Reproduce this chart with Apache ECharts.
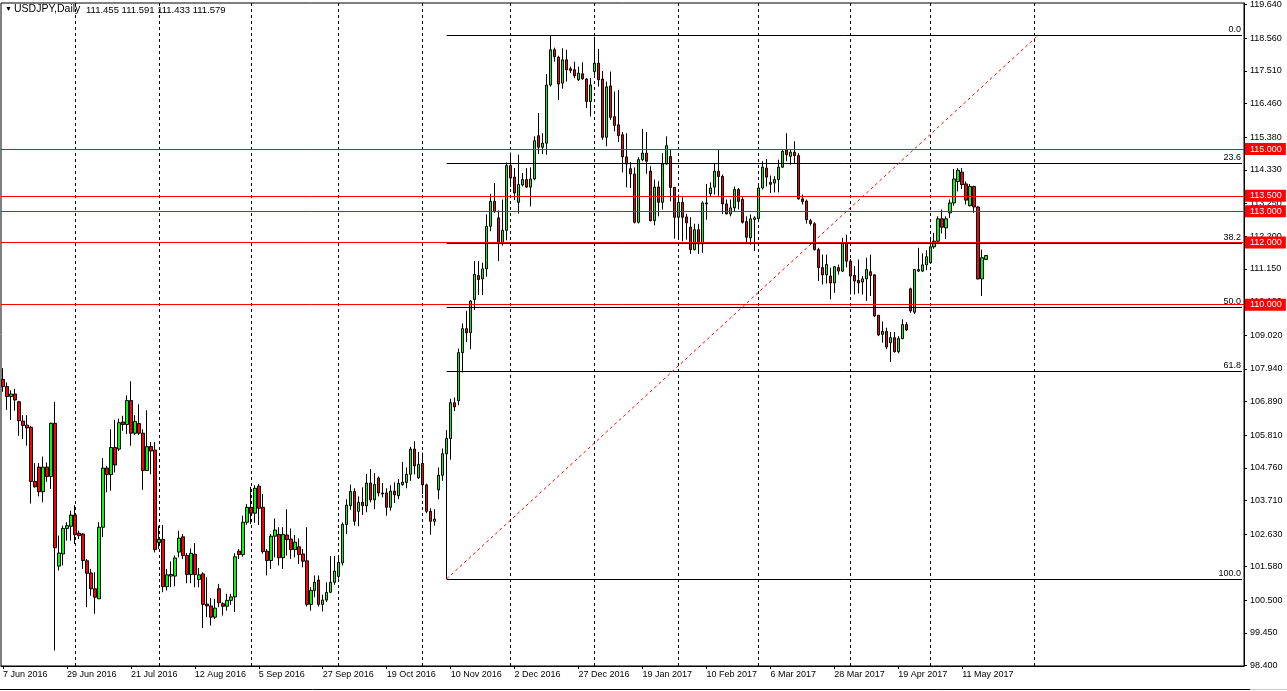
<!DOCTYPE html>
<html><head><meta charset="utf-8">
<script src="https://cdn.jsdelivr.net/npm/echarts@6/dist/echarts.min.js"></script>
<style>html,body{margin:0;padding:0;background:#fff}#c{width:1287px;height:691px}</style>
</head><body><div id="c"></div>
<script>
// ---------- DATA ----------
const symbolTitle = 'USDJPY,Daily';
const firstDate = [2016, 6, 7];            // 7 Jun 2016 (first bar)
const skippedDays = ['2016-12-26', '2017-01-02'];
const totalSlots = 311;                    // bars + empty future slots on the axis

const opens = [
107.60,107.37,107.05,107.13,106.88,106.26,106.13,106.06,104.32,104.78,
103.99,104.78,104.48,106.19,101.60,101.99,102.81,102.88,103.24,102.66,
102.63,101.77,101.38,100.87,100.55,102.85,104.75,104.54,105.41,105.36,
106.23,106.15,106.92,105.87,106.18,105.87,104.67,105.44,105.33,102.36,
102.46,100.94,101.28,101.28,102.05,102.54,101.94,101.33,101.98,101.17,
101.35,100.38,100.32,99.96,100.87,100.39,100.31,100.50,100.61,102.08,
101.97,103.01,103.49,103.30,104.17,103.49,102.08,101.78,102.56,102.62,
101.87,102.60,102.47,102.13,102.22,101.99,101.77,100.37,100.82,101.15,
100.37,100.51,100.76,101.08,101.27,101.70,102.94,103.54,104.00,103.36,
103.65,103.54,104.27,103.73,104.43,103.95,103.95,103.49,104.01,103.86,
104.22,104.29,104.55,105.36,104.44,104.90,104.21,103.36,103.04,104.05,
104.52,105.21,105.70,106.85,106.91,108.46,109.23,109.10,110.17,110.94,
110.83,111.15,112.52,113.32,112.79,111.97,112.39,114.47,114.10,113.29,
113.85,114.02,113.78,114.04,115.43,115.06,115.19,117.06,118.19,117.95,
117.12,117.87,117.58,117.55,117.23,117.42,117.25,116.53,117.49,117.76,
117.25,115.38,117.03,116.04,115.78,115.46,114.75,114.37,114.20,112.65,
114.66,114.87,114.29,112.70,113.78,113.29,114.52,114.76,113.77,112.81,
113.29,112.82,112.49,111.77,112.41,111.95,113.24,113.57,113.78,114.29,
114.12,113.24,112.92,113.11,113.70,113.38,112.67,112.15,112.74,112.77,
113.75,114.39,113.93,113.91,114.02,114.42,114.97,114.77,114.90,114.79,
113.40,113.33,112.70,112.60,111.77,111.19,110.96,110.92,110.70,111.19,
111.08,111.97,111.40,110.94,110.78,110.73,110.83,111.06,110.96,109.66,
109.05,109.14,108.78,108.94,108.49,108.91,109.36,110.51,109.76,111.08,
111.08,111.28,111.35,111.86,112.04,112.76,112.47,112.95,113.27,113.96,
114.26,113.88,113.18,113.80,113.14,110.83,111.455];

const highs = [
107.96,107.50,107.25,107.30,106.91,106.45,106.45,106.11,104.91,104.91,
105.12,104.93,106.21,106.88,102.58,102.90,103.01,103.38,103.56,102.74,
102.66,101.83,101.51,101.40,103.01,105.07,104.82,106.00,106.30,106.34,
106.43,107.09,107.54,106.45,106.80,106.00,106.61,105.59,105.59,102.90,
102.92,101.51,101.75,101.94,102.74,102.63,102.02,102.17,102.34,101.54,
101.40,101.24,100.57,100.55,101.03,100.44,100.71,100.71,102.01,102.15,
103.22,103.60,104.15,104.20,104.24,103.92,102.15,102.63,103.13,102.85,
102.85,103.43,102.81,102.60,102.49,102.15,102.85,100.92,101.30,101.30,
100.68,101.08,101.92,101.92,101.88,103.00,103.75,104.22,104.10,103.84,
104.13,104.56,104.72,104.59,104.48,104.27,104.10,104.20,104.29,104.40,
104.95,104.77,105.43,105.61,105.27,105.25,104.25,103.46,103.43,104.77,
105.38,105.97,106.98,107.02,108.59,109.40,109.80,110.14,111.40,111.40,
111.35,112.90,113.56,113.91,113.03,113.38,114.57,114.89,114.39,114.82,
114.23,114.39,114.41,115.41,116.16,115.51,117.41,118.66,118.26,118.00,
118.24,118.19,117.65,117.81,117.65,117.79,117.28,117.28,118.61,118.22,
117.51,117.17,117.49,116.85,116.90,115.55,115.51,114.58,114.41,114.74,
115.65,115.55,114.45,114.02,113.97,114.87,115.41,115.00,113.78,113.54,
113.45,112.92,112.81,112.60,112.60,113.32,113.88,113.93,114.53,114.98,
114.18,113.38,113.38,113.80,113.75,113.46,112.84,112.90,112.84,113.86,
114.61,114.68,114.15,114.13,114.66,115.00,115.51,115.00,115.25,114.87,
113.54,113.38,112.76,112.65,111.83,111.61,111.61,111.19,111.24,111.29,
112.15,112.25,111.47,111.24,111.45,110.92,111.51,111.61,110.97,109.67,
109.46,109.26,109.12,109.12,108.99,109.53,109.44,110.55,111.15,111.83,
111.65,111.75,112.10,112.31,112.84,113.06,112.84,113.38,114.36,114.39,
114.39,113.96,113.88,113.82,113.16,111.77,111.591];

const lows = [
107.20,106.62,106.30,106.59,105.79,105.68,105.47,103.61,104.12,103.84,
103.65,104.31,104.08,98.89,101.46,101.62,102.42,102.42,102.31,102.47,
101.51,100.28,100.65,100.07,100.55,102.53,103.97,104.02,104.61,105.30,
105.95,105.84,105.47,105.81,105.81,104.05,104.66,104.55,102.04,102.15,
100.76,100.82,100.92,100.95,101.88,101.83,101.05,101.05,100.92,100.92,
99.61,99.96,99.69,99.90,100.28,100.01,100.17,100.36,100.12,101.83,
101.90,102.93,102.95,102.99,102.92,102.00,101.30,101.51,101.88,101.62,
101.51,101.94,101.83,101.88,101.67,101.56,100.30,100.17,100.60,100.30,
100.14,100.45,100.73,101.00,101.20,101.62,102.63,103.41,102.90,102.88,
103.24,103.33,103.65,103.43,103.84,103.81,103.22,103.38,103.63,103.75,
104.18,104.10,104.34,104.55,104.40,103.91,103.30,102.61,102.90,103.75,
104.34,101.19,105.02,106.58,106.77,107.82,108.80,108.57,109.83,110.31,
110.31,110.90,112.36,112.95,111.40,111.90,112.07,113.78,113.36,112.93,
113.80,113.75,113.16,114.00,114.84,114.84,114.82,117.01,117.81,116.58,
116.94,117.17,117.44,117.28,117.19,117.23,116.32,116.05,117.33,117.01,
115.30,115.09,115.94,115.57,115.23,114.25,113.77,113.75,112.61,112.61,
114.61,114.21,112.68,112.55,112.84,113.06,114.50,113.32,112.12,112.09,
112.04,112.09,111.63,111.74,111.63,111.67,112.73,113.46,113.54,113.50,
112.92,112.90,112.84,113.00,113.06,112.61,111.97,111.93,111.72,112.74,
113.70,113.80,113.59,113.61,113.61,114.39,114.61,114.50,114.53,113.38,
113.22,112.61,112.54,111.74,110.76,110.65,110.68,110.17,110.38,110.97,
111.05,111.20,110.33,110.33,110.36,110.33,110.12,110.28,109.60,108.99,
108.78,108.57,108.16,108.46,108.44,108.89,109.15,109.74,109.70,111.05,
111.05,111.11,111.32,111.80,111.99,112.29,112.11,112.79,113.18,113.64,
113.72,113.22,113.16,112.95,110.81,110.28,111.433];

const closes = [
107.37,107.05,107.13,106.94,106.27,106.12,106.04,104.32,104.15,103.99,
104.78,104.48,106.19,102.19,102.02,102.81,102.90,103.24,102.61,102.58,
101.78,101.37,100.87,100.60,102.85,104.75,104.54,105.41,104.85,106.21,
106.15,106.92,105.87,106.25,105.87,104.67,105.44,105.30,102.13,102.46,
100.94,101.32,101.33,101.86,102.50,101.94,101.33,102.01,101.33,101.32,
100.37,100.32,99.96,100.25,100.42,100.31,100.50,100.61,101.90,101.97,
103.01,103.49,103.30,104.10,103.46,102.07,101.78,102.56,102.76,101.87,
102.62,102.45,102.13,102.37,101.97,101.76,100.37,100.82,101.08,100.37,
100.51,100.76,101.08,101.44,101.72,102.94,103.56,104.00,103.04,103.65,
103.54,104.27,103.73,104.22,103.95,103.92,103.49,104.01,103.89,104.26,
104.30,104.55,105.36,104.82,104.87,104.21,103.36,103.04,103.11,104.52,
105.21,105.70,106.85,106.72,108.46,109.23,109.10,110.12,110.97,110.81,
111.15,112.52,113.32,112.99,111.97,112.39,114.47,114.07,113.59,113.86,
114.02,113.78,114.04,115.27,115.06,115.19,117.06,118.19,117.97,117.09,
117.87,117.55,117.53,117.36,117.44,117.26,116.53,117.06,117.76,117.23,
115.38,117.00,116.02,115.76,115.43,114.75,114.52,114.20,112.65,114.66,
114.87,114.61,112.70,113.78,113.29,114.52,115.11,113.77,112.81,113.29,
112.81,112.63,111.77,112.41,111.95,113.27,113.27,113.75,114.29,114.12,
113.24,112.92,113.11,113.70,113.32,112.65,112.17,112.76,112.79,113.75,
114.42,114.10,113.87,114.02,114.42,114.93,114.82,114.90,114.79,113.40,
113.32,112.73,112.61,111.77,111.19,110.96,111.29,110.70,111.22,111.08,
111.97,111.40,110.92,110.76,110.70,110.83,111.13,110.94,109.64,109.03,
109.14,108.64,108.94,108.49,108.91,109.36,109.19,109.80,111.13,111.13,
111.28,111.54,111.86,112.04,112.76,112.49,112.76,113.27,114.04,114.32,
113.86,113.36,113.80,113.14,110.83,111.51,111.579];

// price axis tick labels (right side)
const yTicks = [119.640,118.560,117.510,116.460,115.380,114.330,113.250,112.200,111.150,110.100,
                109.020,107.940,106.890,105.810,104.760,103.710,102.630,101.580,100.500,99.450,98.400];
// horizontal support/resistance levels (red)
const levels = [115.000, 113.500, 113.000, 112.000, 110.000];
// Fibonacci retracement anchors
const fibHighPrice = 118.66, fibLowPrice = 101.19;
const fibStartBar = 111, fibEndSlot = 259;
const fibLevels = [0.0, 23.6, 38.2, 50.0, 61.8, 100.0];
// month separators (bar index of first trading day of each month; last one in future space)
const monthStarts = [18, 39, 62, 84, 105, 127, 148, 169, 189, 212, 232, 258];

// ---------- BUILD ----------
const MON = ['Jan','Feb','Mar','Apr','May','Jun','Jul','Aug','Sep','Oct','Nov','Dec'];
const categories = [];
(function(){
  let t = Date.UTC(firstDate[0], firstDate[1]-1, firstDate[2]);
  while (categories.length < totalSlots) {
    const d = new Date(t);
    const wd = d.getUTCDay();
    const iso = d.toISOString().slice(0,10);
    if (wd !== 0 && wd !== 6 && skippedDays.indexOf(iso) < 0) {
      categories.push(d.getUTCDate() + ' ' + MON[d.getUTCMonth()] + ' ' + d.getUTCFullYear());
    }
    t += 86400000;
  }
})();
const nBars = opens.length;
const candleData = opens.map((o, i) => [o, closes[i], lows[i], highs[i]]);
const lastIdx = totalSlots - 1;
const FONT = 'Liberation Sans';

const showLabel = (idx) => idx % 16 === 0 && idx < nBars;

const fibLines = fibLevels.map(l => {
  const p = fibHighPrice - (fibHighPrice - fibLowPrice) * l / 100;
  return [
    {coord: [fibStartBar, p], label: {formatter: l.toFixed(1)}},
    {coord: [lastIdx, p]}
  ];
});

const chart = echarts.init(document.getElementById('c'), null, {renderer: 'canvas'});
chart.setOption({
  animation: false,
  backgroundColor: '#ffffff',
  grid: {left: 0, right: 43, top: 3, bottom: 25, show: true, borderColor: '#000', borderWidth: 1},
  xAxis: {
    type: 'category', data: categories, boundaryGap: true,
    axisLine: {show: true, lineStyle: {color: '#000', width: 1}},
    axisTick: {show: true, alignWithLabel: true, interval: showLabel, length: 3, lineStyle: {color: '#000'}},
    axisLabel: {interval: showLabel, align: 'left', margin: 4, fontSize: 9, fontFamily: FONT, color: '#000'},
    splitLine: {show: false}
  },
  yAxis: {
    type: 'value', position: 'right', min: 98.39, max: 119.695, scale: true,
    axisLine: {show: true, lineStyle: {color: '#000'}},
    axisTick: {show: true, customValues: yTicks, length: 3, lineStyle: {color: '#000'}},
    axisLabel: {customValues: yTicks, formatter: v => v.toFixed(3), fontSize: 9, fontFamily: FONT, color: '#000', margin: 6},
    splitLine: {show: false}
  },
  series: [
    {
      type: 'candlestick', name: 'USDJPY', data: candleData, barWidth: 3,
      itemStyle: {color: '#00ff00', color0: '#ff0000', borderColor: '#000', borderColor0: '#000', borderWidth: 1},
      markLine: {
        silent: true, symbol: 'none', z: 1, animation: false,
        lineStyle: {color: '#000', type: [3, 3], width: 1},
        label: {show: false},
        data: monthStarts.map(m => ({xAxis: m}))
      }
    },
    {
      type: 'line', name: 'levels', data: [],
      markLine: {
        silent: true, symbol: 'none', animation: false,
        lineStyle: {color: '#ff0000', type: 'solid', width: 1},
        label: {show: true, position: 'end', distance: 1, color: '#fff', backgroundColor: '#ff0000',
                fontSize: 9, fontFamily: FONT, padding: [2, 4, 1, 5], formatter: p => p.value.toFixed(3)},
        data: levels.map(v => ({yAxis: v}))
      }
    },
    {
      type: 'line', name: 'fib', data: [],
      markLine: {
        silent: true, symbol: 'none', animation: false,
        lineStyle: {color: '#000', type: 'solid', width: 1},
        label: {show: true, position: 'insideEndTop', distance: 1, color: '#000', fontSize: 9, fontFamily: FONT},
        data: fibLines.concat([[
          {coord: [fibStartBar, fibLowPrice], lineStyle: {color: '#ff0000', type: [3, 3]}, label: {show: false}},
          {coord: [fibEndSlot, fibHighPrice]}
        ]])
      }
    },
    {
      type: 'line', name: 'bid', data: [],
      markLine: {
        silent: true, symbol: 'none', animation: false,
        lineStyle: {opacity: 0},
        label: {show: true, position: 'end', distance: 1, color: '#fff', backgroundColor: '#000',
                fontSize: 9, fontFamily: FONT, padding: [2, 4, 1, 5], formatter: p => p.value.toFixed(3)},
        data: [{yAxis: closes[nBars - 1]}]
      }
    }
  ],
  graphic: [
    {type: 'text', left: 5, top: 6, style: {text: '\u25BC', fontSize: 7, fill: '#000'}},
    {type: 'text', left: 14, top: 4, style: {text: symbolTitle, font: '10.5px "Liberation Sans"', fill: '#000'}},
    {type: 'text', left: 86, top: 5, style: {
      text: [opens[nBars-1], highs[nBars-1], lows[nBars-1], closes[nBars-1]].map(v => v.toFixed(3)).join(' '),
      font: '9.5px "Liberation Sans"', fill: '#000'}},
    {type: 'line', shape: {x1: 0, y1: 689.5, x2: 1250, y2: 689.5}, style: {stroke: '#000', lineWidth: 1}},
    {type: 'line', shape: {x1: 1250, y1: 689.5, x2: 1287, y2: 689.5}, style: {stroke: '#cccccc', lineWidth: 1}}
  ]
});
</script></body></html>
